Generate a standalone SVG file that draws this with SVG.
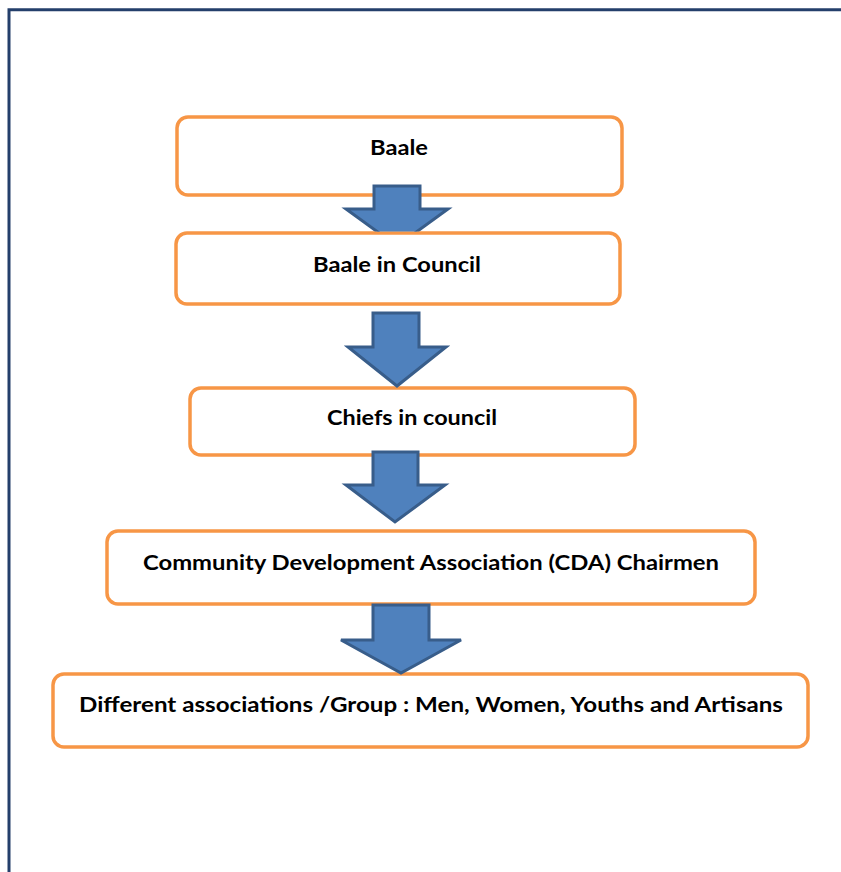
<svg xmlns="http://www.w3.org/2000/svg" width="841" height="872" viewBox="0 0 841 872">
  <style>
    .box { fill: #ffffff; stroke: #F79646; stroke-width: 3.5; }
    .arrow { fill: #4F81BD; stroke: #385D8A; stroke-width: 3; stroke-linejoin: miter; }
    .label { font-family: "Lato", "Liberation Sans", sans-serif; font-weight: 700; font-size: 20px; fill: #000000; text-anchor: middle; }
  </style>
  <defs>
    <clipPath id="clipA1">
      <rect x="300" y="150" width="200" height="81.5"/>
    </clipPath>
  </defs>
  <rect x="0" y="0" width="841" height="872" fill="#ffffff"/>
  <path d="M9 872 V9.7 H841" fill="none" stroke="#243F6B" stroke-width="3"/>

  <g id="node-baale">
    <rect class="box" x="177" y="117" width="445" height="78" rx="11"/>
    <text class="label" x="399" y="155" textLength="58" lengthAdjust="spacingAndGlyphs">Baale</text>
  </g>
  <g id="node-baale-in-council">
    <rect class="box" x="176" y="233" width="444" height="71" rx="11"/>
    <text class="label" x="397" y="272" textLength="168" lengthAdjust="spacingAndGlyphs">Baale in Council</text>
  </g>
  <g id="node-chiefs">
    <rect class="box" x="190" y="388" width="445" height="67" rx="11"/>
    <text class="label" x="412" y="425" textLength="170" lengthAdjust="spacingAndGlyphs">Chiefs in council</text>
  </g>
  <g id="node-cda">
    <rect class="box" x="107" y="531" width="648" height="73" rx="11"/>
    <text class="label" x="431" y="570" textLength="576" lengthAdjust="spacingAndGlyphs">Community Development Association (CDA) Chairmen</text>
  </g>
  <g id="node-groups">
    <rect class="box" x="53" y="674" width="755" height="73" rx="11"/>
    <text class="label" x="431" y="712" textLength="704" lengthAdjust="spacingAndGlyphs">Different associations /Group : Men, Women, Youths and Artisans</text>
  </g>

  <g id="connectors">
    <polygon class="arrow" clip-path="url(#clipA1)" points="374,186 420,186 420,209 448,209 397,246 346,209 374,209"/>
    <polygon class="arrow" points="373,313 419,313 419,347 446,347 397,386 348,347 373,347"/>
    <polygon class="arrow" points="373,452 418,452 418,485 445,485 395,522 346,485 373,485"/>
    <polygon class="arrow" points="373,605 429,605 429,640 461,640 401,673 341,640 373,640"/>
  </g>
</svg>
